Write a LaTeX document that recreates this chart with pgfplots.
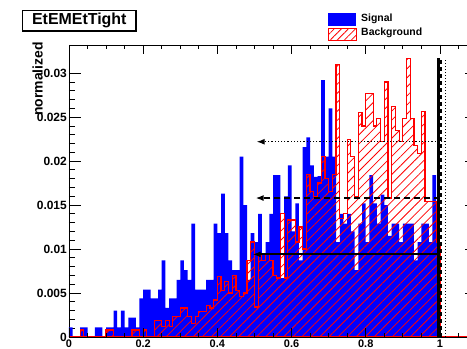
\documentclass[border=0pt]{standalone}
\usepackage{fontspec}
\setmainfont{Liberation Sans}
\usepackage{pgfplots}
\pgfplotsset{compat=1.18}
\usepackage{pgfplotstable}
\usetikzlibrary{patterns.meta,arrows.meta}

\pgfplotstableread{
x y
0.00 0.0011
0.01 0
0.02 0
0.03 0.0011
0.04 0.0011
0.05 0
0.06 0
0.07 0.0011
0.08 0.0011
0.09 0
0.10 0.0011
0.11 0.0011
0.12 0.0030
0.13 0.0011
0.14 0.0030
0.15 0.0011
0.16 0.0022
0.17 0.0022
0.18 0.0011
0.19 0.0044
0.20 0.0054
0.21 0.0054
0.22 0.0044
0.23 0.0044
0.24 0.0054
0.25 0.0087
0.26 0.0033
0.27 0.0044
0.28 0.0044
0.29 0.0065
0.30 0.0087
0.31 0.0076
0.32 0.0065
0.33 0.0129
0.34 0.0054
0.35 0.0054
0.36 0.0054
0.37 0.0065
0.38 0.0065
0.39 0.0129
0.40 0.0118
0.41 0.0163
0.42 0.0118
0.43 0.0087
0.44 0.0076
0.45 0.0076
0.46 0.0205
0.47 0.0150
0.48 0.0065
0.49 0.0118
0.50 0.0108
0.51 0.0140
0.52 0.0095
0.53 0.0108
0.54 0.0140
0.55 0.0184
0.56 0.0184
0.57 0.0067
0.58 0.0160
0.59 0.0195
0.60 0.0120
0.61 0.0152
0.62 0.0087
0.63 0.0216
0.64 0.0227
0.65 0.0195
0.66 0.0182
0.67 0.0183
0.68 0.0292
0.69 0.0205
0.70 0.0260
0.71 0.0205
0.72 0.0108
0.73 0.0140
0.74 0.0129
0.75 0.0140
0.76 0.0120
0.77 0.0076
0.78 0.0129
0.79 0.0152
0.80 0.0108
0.81 0.0184
0.82 0.0152
0.83 0.0129
0.84 0.0162
0.85 0.0150
0.86 0.0115
0.87 0.0129
0.88 0.0129
0.89 0.0108
0.90 0.0129
0.91 0.0129
0.92 0.0129
0.93 0.0087
0.94 0.0108
0.95 0.0129
0.96 0.0129
0.97 0.0108
0.98 0.0184
0.99 0.0129
1.00 0.0129
}\sig

\pgfplotstableread{
x y
0.00 0
0.01 0
0.02 0
0.03 0.0008
0.04 0
0.05 0
0.06 0
0.07 0
0.08 0
0.09 0
0.10 0.0008
0.11 0.0008
0.12 0
0.13 0
0.14 0
0.15 0
0.16 0
0.17 0.0008
0.18 0.0008
0.19 0
0.20 0.0008
0.21 0
0.22 0
0.23 0.0019
0.24 0.0019
0.25 0.0012
0.26 0.0019
0.27 0.0012
0.28 0.0023
0.29 0.0023
0.30 0.0033
0.31 0.0033
0.32 0.0023
0.33 0.0015
0.34 0.0023
0.35 0.0029
0.36 0.0029
0.37 0.0036
0.38 0.0033
0.39 0.0042
0.40 0.0069
0.41 0.0053
0.42 0.0063
0.43 0.0050
0.44 0.0070
0.45 0.0053
0.46 0.0046
0.47 0.0050
0.48 0.0087
0.49 0.0108
0.50 0.0034
0.51 0.0095
0.52 0.0087
0.53 0.0095
0.54 0.0087
0.55 0.0070
0.56 0.0067
0.57 0.0140
0.58 0.0067
0.59 0.0133
0.60 0.0133
0.61 0.0108
0.62 0.0125
0.63 0.0100
0.64 0.0185
0.65 0.0165
0.66 0.0160
0.67 0.0175
0.68 0.0205
0.69 0.0180
0.70 0.0165
0.71 0.0185
0.72 0.0310
0.73 0.0135
0.74 0.0140
0.75 0.0225
0.76 0.0205
0.77 0.0160
0.78 0.0255
0.79 0.0240
0.80 0.0277
0.81 0.0277
0.82 0.0240
0.83 0.0248
0.84 0.0222
0.85 0.0290
0.86 0.0158
0.87 0.0262
0.88 0.0235
0.89 0.0222
0.90 0.0248
0.91 0.0317
0.92 0.0248
0.93 0.0218
0.94 0.0209
0.95 0.0256
0.96 0.0154
0.97 0.0154
0.98 0.0154
0.99 0.0107
1.00 0
1.10 0
}\bkg

\begin{document}
\begin{tikzpicture}
\path[use as bounding box] (-69bp,-12bp) rectangle (398bp,337bp);
\begin{axis}[
  at={(0bp,0bp)}, anchor=south west,
  scale only axis, width=408bp, height=292bp,
  xmin=0, xmax=1.1, ymin=0, ymax=0.0332,
  axis line style={line width=0.8bp},
  xtick=\empty,
  ytick={0,0.005,0.01,0.015,0.02,0.025,0.03},
  yticklabels={0,0.005,0.01,0.015,0.02,0.025,0.03},
  scaled y ticks=false,
  minor y tick num=4,
  tick align=inside,
  major tick length=12.2bp, minor tick length=6.1bp,
  tick style={black, line width=0.8bp},
  yticklabel style={font=\bfseries\fontsize{12}{12}\selectfont, anchor=east, inner sep=0pt, xshift=-2bp},
]
\addplot[const plot mark left, fill=blue, draw=none] table {\sig} \closedcycle;
\addplot[const plot mark left, draw=red, line width=1.2bp,
  pattern={Lines[angle=45,distance=6.4bp,line width=0.8bp]}, pattern color=red] table {\bkg} \closedcycle;
% cut lines
\addplot[black, line width=2.6bp] coordinates {(0.9955,0) (0.9955,0.0317)};
\addplot[black, line width=2.4bp, dash pattern=on 3.5bp off 3.5bp] coordinates {(1.0015,0) (1.0015,0.0317)};
\addplot[black, line width=1.3bp, dash pattern=on 1.3bp off 1.7bp] coordinates {(1.015,0) (1.015,0.0315)};
% arrows
\addplot[black, line width=2bp, -{Latex[length=8bp,width=6bp]}] coordinates {(0.9955,0.0094) (0.495,0.0094)};
\addplot[black, line width=2bp, dash pattern=on 6bp off 4bp, -{Latex[length=8bp,width=6bp]}] coordinates {(1.0015,0.0158) (0.503,0.0158)};
\addplot[black, line width=1.2bp, dash pattern=on 1.2bp off 2bp, -{Latex[length=8bp,width=6bp]}] coordinates {(1.015,0.0222) (0.506,0.0222)};
\end{axis}
\begin{axis}[
  at={(0bp,0bp)}, anchor=south west,
  scale only axis, width=408bp, height=292bp,
  xmin=0, xmax=1.1, ymin=0, ymax=0.0332,
  axis line style={draw=none},
  ytick=\empty,
  xtick={0,0.2,0.4,0.6,0.8,1},
  xticklabels={0,0.2,0.4,0.6,0.8,1},
  minor xtick={0.05,0.1,0.15,0.25,0.3,0.35,0.45,0.5,0.55,0.65,0.7,0.75,0.85,0.9,0.95,1.05},
  tick align=inside,
  major tick length=9bp, minor tick length=4.5bp,
  tick style={black, line width=0.8bp},
  xticklabel style={font=\bfseries\fontsize{11}{11}\selectfont, anchor=north, inner sep=0pt, yshift=-2.5bp},
]
\end{axis}
% y axis title
\node[rotate=90, anchor=base east, inner sep=0pt, font=\bfseries\fontsize{14}{14}\selectfont] at (-26.3bp,295bp) {normalized};
% title box
\node[draw=black, line width=1.2bp, fill=white, minimum width=113.3bp, minimum height=20.3bp, inner sep=0pt,
  font=\bfseries\fontsize{16}{16}\selectfont] at (10.3bp,316.2bp) {EtEMEtTight};
% legend
\fill[blue] (259bp,311.3bp) rectangle (287bp,323.7bp);
\draw[red, line width=1bp, pattern={Lines[angle=45,distance=5bp,line width=0.8bp]}, pattern color=red] (259bp,296.5bp) rectangle (287bp,308bp);
\node[anchor=base west, inner sep=0pt, font=\bfseries\fontsize{10.5}{10.5}\selectfont] at (292bp,315.3bp) {Signal};
\node[anchor=base west, inner sep=0pt, font=\bfseries\fontsize{10.5}{10.5}\selectfont] at (292bp,301bp) {Background};
\end{tikzpicture}
\end{document}
